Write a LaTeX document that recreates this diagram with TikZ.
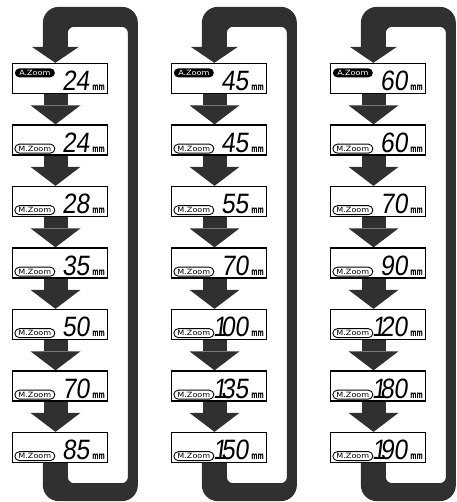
\documentclass[tikz,border=0pt]{standalone}
\usepackage{fontspec}
\usepackage{graphicx}
\usetikzlibrary{arrows.meta,shapes.misc,calc}
\newfontfamily\lcdfont{Liberation Sans}[FakeSlant=0.15]
\newfontfamily\labfont{DejaVu Sans}
\definecolor{dk}{RGB}{48,48,48}
\newcommand\lcdone{\kern-0.12em 1\kern-0.22em}
\pgfdeclarelayer{bg}
\pgfsetlayers{bg,main}
\newcommand\zcol[3]{%
  \foreach \v [count=\i] in {#3} {
    \node[zbox] (#1\i) at (#2,{78.5+61.5*(\i-1)}) {};
    \node[numtxt] (#1n\i) at ([xshift=-18.5pt,yshift=3.5pt]#1\i.south east) {\scalebox{0.88}[1]{\v}};
    \node[mmtxt] (#1m\i) at ([xshift=-3pt,yshift=3.5pt]#1\i.south east) {\scalebox{0.6}[1]{mm}};
  }
  \node[apill] (#1p1) at ([xshift=23pt,yshift=-10pt]#11.north west) {\scalebox{1.12}[1]{A.Zoom}};
  \foreach \i in {2,...,7} \node[mpill] (#1p\i) at ([xshift=23pt,yshift=7pt]#1\i.south west) {\scalebox{1.12}[1]{M.Zoom}};
  \begin{pgfonlayer}{bg}
    \foreach \i [evaluate=\i as \j using int(\i+1)] in {1,...,6}
      \draw[flowarr] ([xshift=-4.5pt]#1\i.south) -- ([xshift=-4.5pt]#1\j.north);
    \fill[loopfill] let \p1=(#11.north west), \p2=(#17.south west) in
      (\x1+31pt,\y1+16pt) -- (\x1+20pt,\y1+16pt) -- (\x1+43.5pt,\y1) -- (\x1+67pt,\y1+16pt) -- (\x1+56pt,\y1+16pt)
      [rounded corners=6pt] -- (\x1+56pt,\y1+36pt) -- (\x1+116pt,\y1+36pt) -- (\x1+116pt,\y2-20pt) -- (\x1+56pt,\y2-20pt)
      [sharp corners] -- (\x1+56pt,\y2) -- (\x1+31pt,\y2)
      [rounded corners=16pt] -- (\x1+31pt,\y2-38pt) -- (\x1+126pt,\y2-38pt) -- (\x1+126pt,\y1+56pt) -- (\x1+31pt,\y1+56pt)
      [sharp corners] -- cycle;
  \end{pgfonlayer}
}
\begin{document}
\begin{tikzpicture}[x=1pt,y=-1pt,
  zbox/.style={draw=black,line width=1.3pt,fill=white,minimum width=95pt,minimum height=30pt,inner sep=0pt},
  apill/.style={rounded rectangle,fill=black,text=white,minimum width=40pt,minimum height=9pt,inner sep=0pt,font=\labfont\fontsize{7.2}{7.2}\selectfont},
  mpill/.style={rounded rectangle,draw=black,line width=0.9pt,fill=white,text=black,minimum width=40pt,minimum height=9pt,inner sep=0pt,font=\labfont\fontsize{7.2}{7.2}\selectfont},
  numtxt/.style={anchor=base east,inner sep=0pt,font=\lcdfont\fontsize{28}{28}\selectfont},
  mmtxt/.style={anchor=base east,inner sep=0pt,font=\labfont\bfseries\fontsize{10}{10}\selectfont},
  flowarr/.style={draw=dk,line width=24pt,-{Triangle[width=50pt,length=19pt,line width=0pt]}},
  loopfill/.style={fill=dk}]
\useasboundingbox (0,0) rectangle (456,502);
\zcol{a}{60}{24,24,28,35,50,70,85}
\zcol{b}{219}{45,45,55,70,{\lcdone00},{\lcdone35},{\lcdone50}}
\zcol{c}{378}{60,60,70,90,{\lcdone20},{\lcdone80},{\lcdone90}}
\end{tikzpicture}
\end{document}
